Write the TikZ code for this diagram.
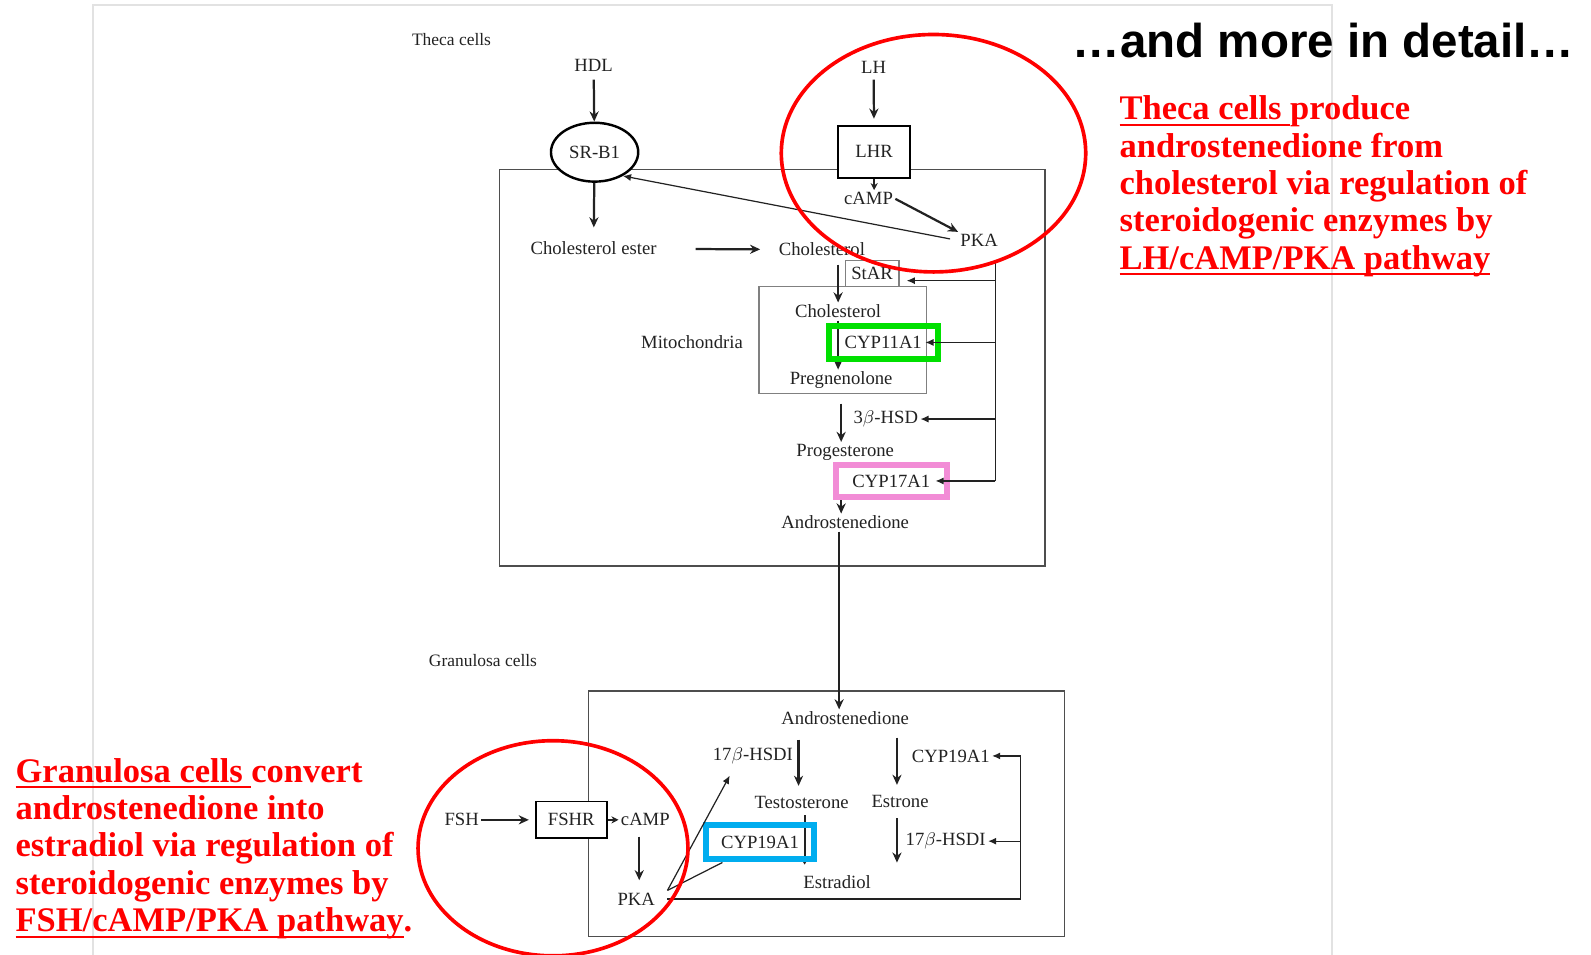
\documentclass[tikz,border=0pt]{standalone}
\usepackage{fontspec}
\setmainfont{Liberation Serif}
\newfontfamily\titlefont{Liberation Sans}
\usepackage{tikz}
\usetikzlibrary{arrows.meta, shapes.geometric}

\definecolor{boxgreen}{HTML}{00E000}
\definecolor{boxpink}{HTML}{F28CD6}
\definecolor{boxblue}{HTML}{00ADEF}
\definecolor{framegray}{HTML}{E2E2E2}
\definecolor{inkgray}{HTML}{222222}

\newcommand{\undl}[1]{\setbox0\hbox{#1}\rlap{\rule[-3pt]{\wd0}{1.1pt}}\box0}

\tikzset{
  lbl/.style={font=\fontsize{9.2}{11}\selectfont, text=inkgray, inner sep=1pt},
  grouplbl/.style={font=\fontsize{8.6}{10}\selectfont, text=inkgray, inner sep=1pt},
  arr/.style={-{Stealth[length=5pt,width=4.5pt]}, line width=1.1pt, draw=inkgray},
  fb/.style={line width=0.6pt, draw=inkgray},
  fbarr/.style={fb, -{Latex[length=4pt,width=3.5pt]}},
  cellbox/.style={line width=0.7pt, draw=inkgray!80},
  thinbox/.style={line width=0.6pt, draw=gray},
  enzbox/.style={lbl, draw, line width=3pt, inner sep=0pt},
  note/.style={font=\fontsize{17}{18.4}\selectfont\bfseries, text=red, align=left, anchor=north west, inner sep=0pt},
  ring/.style={draw=red, line width=1.8pt}
}

\begin{document}
\begin{tikzpicture}[x=0.5pt, y=-0.5pt]
    \useasboundingbox (0,0) rectangle (1568,941);
    \draw[framegray, line width=1pt] (92,945) -- (92,5) -- (1313,5) -- (1313,945);

    % Theca cells
    \node[grouplbl] (thecalbl) at (445,39) {Theca cells};
    \draw[cellbox] (492,167) rectangle (1030,558);
    \node[lbl] (hdl) at (585,64) {HDL};
    \node[lbl, ellipse, draw, line width=1.2pt, fill=white, minimum width=43pt, minimum height=29pt] (srb1) at (586,150) {SR-B1};
    \node[lbl] (lh) at (861,66) {LH};
    \node[lbl, draw, line width=1pt, fill=white, minimum width=35.5pt, minimum height=25.5pt] (lhr) at (861.5,149.5) {LHR};
    \node[lbl] (camp1) at (856,196) {cAMP};
    \node[lbl] (pka1) at (965,237) {PKA};
    \node[lbl] (cholester) at (585,245) {Cholesterol ester};
    \node[lbl] (chol1) at (810,246) {Cholesterol};
    \node[lbl, draw=gray, line width=0.6pt, minimum width=26.5pt, minimum height=12.5pt] (star) at (859.5,269.5) {StAR};
    \draw[thinbox] (748,282) rectangle (913,388);
    \node[lbl] (mitolbl) at (682,337) {Mitochondria};
    \node[lbl] (chol2) at (826,307) {Cholesterol};
    \node[lbl] (preg) at (829,375) {Pregnenolone};
    \node[lbl] (hsd3b) at (873,413) {3$\beta$-HSD};
    \node[lbl] (prog) at (833,446) {Progesterone};
    \node[lbl] (andro1) at (833,515) {Androstenedione};
    \coordinate (tfbtop) at (981,258);
    \coordinate (tfbbot) at (981,474);

    % Theca arrows
    \draw[arr, shorten <=3pt] (hdl) -- (srb1);
    \draw[arr, shorten >=6pt] (srb1) -- (cholester);
    \draw[arr, shorten <=2pt, shorten >=3pt] (lh) -- (lhr);
    \draw[arr, -{Stealth[length=3.5pt,width=3.5pt]}] (lhr.south) -- (lhr.south |- camp1.north);
    \draw[arr] (camp1.east) -- (pka1.north west);
    \draw[fbarr, shorten <=4pt] (pka1.west) -- (srb1.-40);
    \draw[arr, shorten <=18pt, shorten >=8pt] (cholester) -- (chol1);
    \draw[arr, shorten <=3pt] (chol1.south -| chol2) -- (chol2.north);
    \draw[arr] (chol2.south) -- (chol2.south |- preg.north);
    \draw[fb] (tfbtop) -- (tfbbot);
    \draw[fbarr] (tfbtop |- star.south east) ++(0,-6) -- ([shift={(7,-6)}]star.south east);
    \draw[fbarr] (tfbbot |- hsd3b) -- (hsd3b.east);
    \node[enzbox, draw=boxgreen, minimum width=53.5pt, minimum height=16.5pt] (cyp11) at (870.5,337.5) {CYP11A1};
    \draw[fbarr] (tfbbot |- cyp11) -- ([xshift=-7.5pt]cyp11.east);
    \draw[arr, shorten <=6pt] (preg.south) -- (preg.south |- prog.north);
    \draw[arr] ([xshift=-2pt]prog.south) -- ([xshift=-2pt]prog.south |- andro1.north);
    \node[enzbox, draw=boxpink, fill=white, minimum width=54.5pt, minimum height=16pt] (cyp17) at (878.5,474) {CYP17A1};
    \draw[fbarr] (tfbbot) -- ([xshift=-7pt]cyp17.east);

    % Granulosa cells
    \node[grouplbl] (grlbl) at (476,651) {Granulosa cells};
    \draw[cellbox] (580,681) rectangle (1049,923);
    \node[lbl] (andro2) at (833,708) {Androstenedione};
    \node[lbl] (hsd17a) at (742,745) {17$\beta$-HSDI};
    \node[lbl] (cyp19a) at (937,745) {CYP19A1};
    \node[lbl] (testo) at (790,791) {Testosterone};
    \node[lbl] (estrone) at (887,790) {Estrone};
    \node[lbl] (hsd17b) at (932,829) {17$\beta$-HSDI};
    \node[lbl] (estradiol) at (825,869) {Estradiol};
    \node[lbl] (fsh) at (455,808) {FSH};
    \node[lbl, draw, line width=0.8pt, fill=white, minimum width=35pt, minimum height=18pt] (fshr) at (563,808) {FSHR};
    \node[lbl] (camp2) at (636,808) {cAMP};
    \node[lbl] (pka2) at (627,886) {PKA};
    \coordinate (gfbtop) at (1006,745);

    % Granulosa arrows
    \draw[arr] ([xshift=-3pt]andro1.south) -- ([xshift=-3pt]andro1.south |- andro2.north);
    \draw[arr, shorten <=6pt, shorten >=4pt] ([xshift=-1.5pt]testo.north |- andro2.south) -- ([xshift=-1.5pt]testo.north);
    \draw[arr, shorten <=5pt, shorten >=4pt] ([xshift=-1.5pt]estrone.north |- andro2.south) -- ([xshift=-1.5pt]estrone.north);
    \draw[arr, shorten <=4pt, shorten >=5pt] ([xshift=-1.5pt]estrone.south) -- ([xshift=-1.5pt]estrone.south |- estradiol.north);
    \draw[arr, -{Stealth[length=3pt,width=3.5pt]}, shorten <=2pt, shorten >=4pt] ([xshift=1.5pt]testo.south) -- ([xshift=1.5pt]testo.south |- estradiol.north);
    \node[enzbox, draw=boxblue, minimum width=53pt, minimum height=17pt] (cyp19b) at (749,830) {CYP19A1};
    \draw[fb] ([xshift=5pt]pka2.east) -- (pka2.east -| gfbtop) -- (gfbtop);
    \draw[fbarr] (gfbtop) -- (cyp19a.east);
    \draw[fbarr] (gfbtop |- hsd17b) -- (hsd17b.east);
    \draw[arr, shorten >=3pt] (fsh) -- (fshr);
    \draw[arr, -{Stealth[length=3.5pt,width=3.5pt]}] (fshr) -- (camp2);
    \draw[arr, shorten <=4pt, shorten >=5pt] ([xshift=-3pt]camp2.south) -- ([xshift=-3pt]camp2.south |- pka2.north);
    \draw[fbarr] ([xshift=5pt]pka2.north east) -- ([shift={(19,9)}]hsd17a.south west);
    \draw[fb] ([xshift=5pt]pka2.north east) -- ([xshift=9.5pt]cyp19b.south west);

    % Highlights and notes
    \draw[ring] (920,151) ellipse [x radius=150, y radius=117];
    \draw[ring] (545,836) ellipse [x radius=133, y radius=106];
    \node[anchor=base west, inner sep=0pt, font=\titlefont\fontsize{23.4}{28}\selectfont\bfseries] (title) at (1057,57) {…and more in detail…};
    \node[note] (thecanote) at (1103,94) {\undl{Theca cells }produce\\androstenedione from\\cholesterol via regulation of\\steroidogenic enzymes by\\\undl{LH/cAMP/PKA pathway}};
    \node[note] (granote) at (15,747) {\undl{Granulosa cells }convert\\androstenedione into\\estradiol via regulation of\\steroidogenic enzymes by\\\undl{FSH/cAMP/PKA pathway}.};
\end{tikzpicture}
\end{document}
